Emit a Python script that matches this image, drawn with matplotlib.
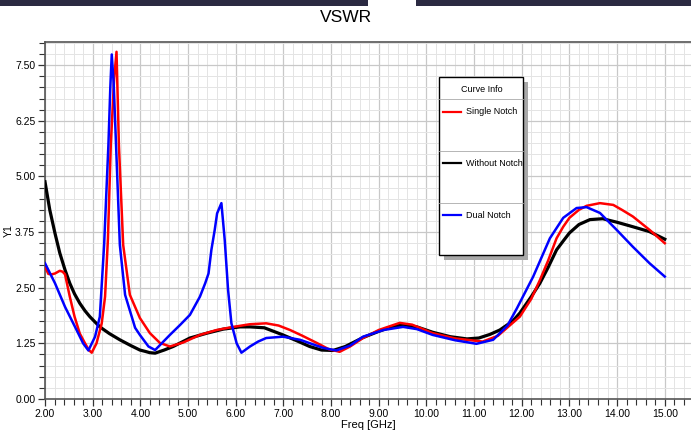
import numpy as np
import matplotlib
matplotlib.use('Agg')
import matplotlib.pyplot as plt
from matplotlib.patches import Rectangle
from matplotlib.lines import Line2D
from matplotlib.ticker import MultipleLocator

plt.rcParams['font.family'] = ['Liberation Sans', 'DejaVu Sans']

## Without Notch (black)
f_none = [2.0, 2.1, 2.21, 2.31, 2.42, 2.52, 2.62, 2.73, 2.84, 2.94, 3.15, 3.35, 3.57, 3.8, 3.99, 4.1, 4.2,
          4.31, 4.5, 4.69, 5.04, 5.4, 5.74, 6.09, 6.3, 6.6, 6.99, 7.3, 7.55, 7.8, 8.04, 8.3, 8.67,
          9.0, 9.3, 9.51, 9.8, 10.13, 10.5, 10.85, 11.1, 11.33, 11.54, 11.81, 11.96, 12.2,
          12.38, 12.55, 12.73, 12.87, 13.0, 13.2, 13.43, 13.7, 14.0, 14.33, 14.68, 15.0]
v_none = [4.88, 4.25, 3.72, 3.28, 2.9, 2.6, 2.36, 2.15, 1.98, 1.85, 1.62, 1.47, 1.33, 1.2, 1.1, 1.07, 1.04,
          1.03, 1.1, 1.18, 1.37, 1.48, 1.57, 1.62, 1.62, 1.6, 1.44, 1.3, 1.18, 1.1, 1.09, 1.18, 1.38,
          1.52, 1.63, 1.67, 1.62, 1.5, 1.4, 1.35, 1.37, 1.45, 1.55, 1.75, 1.93, 2.3,
          2.6, 2.95, 3.35, 3.55, 3.73, 3.92, 4.03, 4.05, 3.97, 3.87, 3.76, 3.59]

## Single Notch (red)
f_single = [2.0, 2.07, 2.14, 2.21, 2.31, 2.37, 2.42, 2.52, 2.62, 2.73, 2.84, 2.92, 2.98, 3.08, 3.19,
            3.26, 3.32, 3.38, 3.45, 3.5, 3.55, 3.64, 3.78, 3.99, 4.2, 4.41, 4.62, 4.9, 5.25,
            5.6, 5.95, 6.3, 6.64, 6.9, 7.14, 7.4, 7.7, 7.95, 8.18, 8.4, 8.67, 9.0, 9.44, 9.7,
            10.13, 10.6, 11.18, 11.5, 11.96, 12.2, 12.38, 12.55, 12.73, 12.87, 13.0, 13.2,
            13.36, 13.64, 13.92, 14.1, 14.33, 14.68, 15.0]
v_single = [2.97, 2.81, 2.8, 2.82, 2.88, 2.86, 2.8, 2.3, 1.85, 1.47, 1.25, 1.1, 1.04, 1.25, 1.7,
            2.3, 3.6, 5.71, 7.2, 7.8, 5.71, 3.46, 2.34, 1.82, 1.48, 1.26, 1.18, 1.27, 1.44,
            1.55, 1.62, 1.68, 1.7, 1.65, 1.55, 1.42, 1.26, 1.12, 1.06, 1.18, 1.37, 1.55, 1.71, 1.67,
            1.48, 1.36, 1.29, 1.42, 1.85, 2.25, 2.67, 3.1, 3.61, 3.87, 4.07, 4.25,
            4.34, 4.4, 4.36, 4.25, 4.1, 3.8, 3.5]

## Dual Notch (blue)
f_dual = [2.0, 2.21, 2.42, 2.63, 2.8, 2.91, 3.05, 3.15, 3.24, 3.33, 3.37, 3.4, 3.44, 3.49, 3.57,
          3.68, 3.89, 3.99, 4.17, 4.31, 4.62, 4.83, 5.04, 5.25, 5.36, 5.43, 5.49, 5.56, 5.61,
          5.7, 5.77, 5.84, 5.91, 6.02, 6.12, 6.3, 6.47, 6.64, 6.99, 7.35, 7.83, 8.11, 8.4,
          8.67, 9.1, 9.51, 9.8, 10.13, 10.6, 11.05, 11.4, 11.7, 11.9, 12.24, 12.59, 12.87,
          13.15, 13.36, 13.64, 13.99, 14.33, 14.68, 15.0]
v_dual = [3.05, 2.6, 2.07, 1.62, 1.25, 1.09, 1.4, 1.85, 3.46, 5.71, 7.0, 7.74, 7.1, 5.71, 3.46,
          2.34, 1.6, 1.44, 1.18, 1.1, 1.44, 1.66, 1.89, 2.3, 2.6, 2.82, 3.35, 3.8, 4.17,
          4.4, 3.57, 2.45, 1.7, 1.25, 1.04, 1.18, 1.29, 1.37, 1.4, 1.33, 1.15, 1.09, 1.2,
          1.4, 1.55, 1.62, 1.57, 1.44, 1.32, 1.24, 1.33, 1.65, 2.04, 2.75, 3.61, 4.07,
          4.29, 4.31, 4.18, 3.8, 3.42, 3.05, 2.75]

W, H = 691, 445
fig = plt.figure(figsize=(W / 100, H / 100), dpi=100, facecolor='w')

def fx(px):
    return px / W

def fy(py):
    return 1 - py / H

ax = fig.add_axes([fx(45), fy(399), 1 - fx(45), fy(42) - fy(399)])

ax.plot(f_none, v_none, color='black', lw=2.3, zorder=3)
ax.plot(f_single, v_single, color='#ff0000', lw=1.8, zorder=4)
ax.plot(f_dual, v_dual, color='#0000ff', lw=1.8, zorder=5)

ax.set_xlim(2.0, 15.55)
ax.set_ylim(0, 8.02)
ax.xaxis.set_major_locator(MultipleLocator(1.0))
ax.xaxis.set_minor_locator(MultipleLocator(0.2))
ax.yaxis.set_major_locator(MultipleLocator(1.25))
ax.yaxis.set_minor_locator(MultipleLocator(0.25))
ax.xaxis.set_major_formatter(plt.FormatStrFormatter('%.2f'))
ax.yaxis.set_major_formatter(plt.FormatStrFormatter('%.2f'))

ax.grid(which='major', color='#c8c8c8', lw=0.9, zorder=1)
ax.grid(which='minor', color='#e4e4e4', lw=0.7, zorder=0)
ax.set_axisbelow(True)

ax.tick_params(which='major', direction='out', length=5, width=0.9, labelsize=7.5,
               color='#333333', pad=2)
ax.tick_params(which='minor', direction='out', length=4, width=0.8, color='#333333')
for s in ['left', 'bottom', 'top']:
    ax.spines[s].set_color('#555555')
    ax.spines[s].set_linewidth(1.2)
ax.spines['right'].set_visible(False)

ax.set_xlabel('Freq [GHz]', fontsize=8, labelpad=1)
fig.text(fx(9), fy(231), 'Y1', rotation=90, fontsize=7.5, ha='center', va='center')
fig.text(0.5, fy(18), 'VSWR', fontsize=12.5, ha='center', va='center')

# dark strip at the top of the window
fig.add_artist(Rectangle((0, fy(6)), fx(368), 6 / H, transform=fig.transFigure,
                         color='#2b2a42', lw=0))
fig.add_artist(Rectangle((fx(416), fy(6)), 1 - fx(416), 6 / H, transform=fig.transFigure,
                         color='#2b2a42', lw=0))

# legend box "Curve Info"
bx0, bx1, by0, by1 = 439, 523, 77, 255
fig.add_artist(Rectangle((fx(bx0 + 5), fy(by1 + 5)), fx(bx1 - bx0), (by1 - by0) / H,
                         transform=fig.transFigure, color='#a8a8a8', lw=0, zorder=9))
fig.add_artist(Rectangle((fx(bx0), fy(by1)), fx(bx1 - bx0), (by1 - by0) / H,
                         transform=fig.transFigure, facecolor='white', edgecolor='black',
                         lw=1.0, zorder=10))
for sy in [99, 151, 203]:
    fig.add_artist(Line2D([fx(bx0), fx(bx1)], [fy(sy), fy(sy)], transform=fig.transFigure,
                          color='#aaaaaa', lw=0.6, zorder=11))
fig.text(fx(482), fy(89), 'Curve Info', fontsize=6.5, ha='center', va='center', zorder=12)
entries = [('Single Notch', '#ff0000', 112), ('Without Notch', 'black', 163), ('Dual Notch', '#0000ff', 215)]
for name, col, ey in entries:
    fig.add_artist(Line2D([fx(443), fx(461)], [fy(ey), fy(ey)], transform=fig.transFigure,
                          color=col, lw=1.6, zorder=12))
    fig.text(fx(466), fy(ey), name, fontsize=6.5, ha='left', va='center', zorder=12)

fig.savefig('out.png', dpi=100)
